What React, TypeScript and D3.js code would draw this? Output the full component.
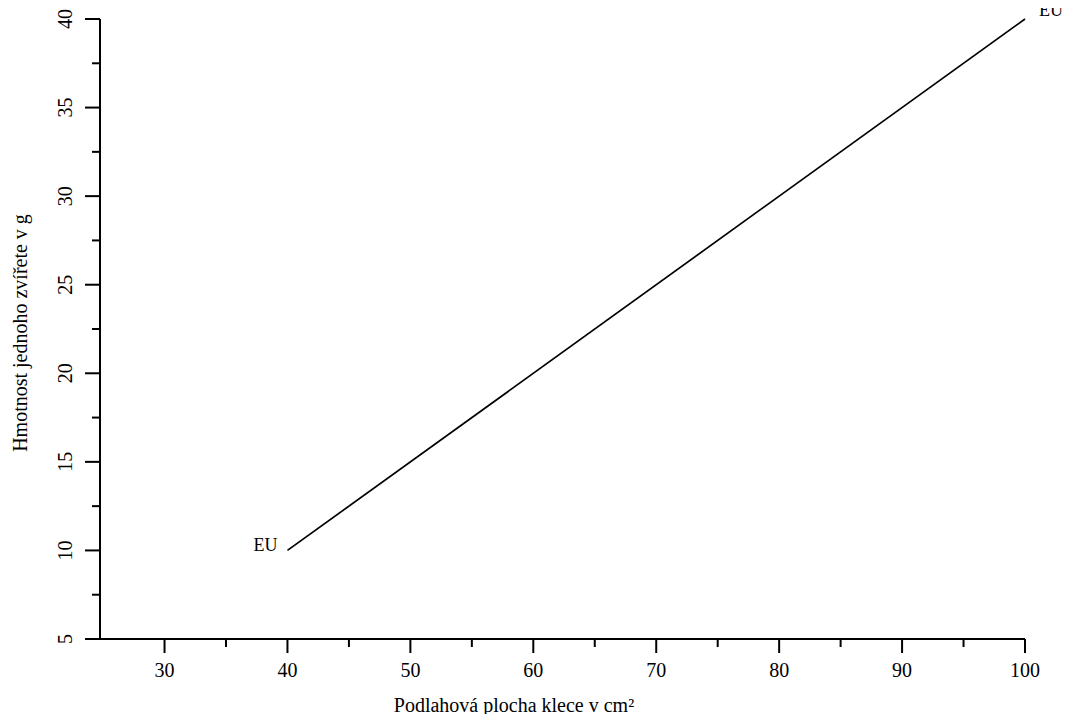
import React, { useEffect, useRef } from "react";
import * as d3 from "d3";

const lineX = [40, 100];
const lineY = [10, 40];
const lineLabels = ["EU", "EU"];
const xTicks = [30, 40, 50, 60, 70, 80, 90, 100];
const xMinor = [35, 45, 55, 65, 75, 85, 95];
const yTicks = [5, 10, 15, 20, 25, 30, 35, 40];
const yMinor = [7.5, 12.5, 17.5, 22.5, 27.5, 32.5, 37.5];
const xTitle = "Podlahová plocha klece v cm²";
const yTitle = "Hmotnost jednoho zvířete v g";

const W = 1072;
const H = 722;
const FONT = "'Liberation Serif', serif";

const Chart = () => {
  const ref = useRef<SVGSVGElement>(null);

  useEffect(() => {
    const svg = d3.select(ref.current);
    svg.selectAll("*").remove();

    const x = d3.scaleLinear().domain([24.75, 100]).range([100, 1025]);
    const y = d3.scaleLinear().domain([5, 40]).range([639, 19]);
    const sw = 2;

    // axis lines
    svg.append("line")
      .attr("x1", 86).attr("x2", x(100))
      .attr("y1", y(5)).attr("y2", y(5))
      .attr("stroke", "#000").attr("stroke-width", sw);
    svg.append("line")
      .attr("x1", x.range()[0]).attr("x2", x.range()[0])
      .attr("y1", y(40)).attr("y2", y(5))
      .attr("stroke", "#000").attr("stroke-width", sw);

    // x ticks
    svg.selectAll(".xt").data(xTicks).enter().append("line")
      .attr("x1", (d) => x(d)).attr("x2", (d) => x(d))
      .attr("y1", y(5)).attr("y2", y(5) + 14)
      .attr("stroke", "#000").attr("stroke-width", sw);
    svg.selectAll(".xm").data(xMinor).enter().append("line")
      .attr("x1", (d) => x(d)).attr("x2", (d) => x(d))
      .attr("y1", y(5)).attr("y2", y(5) + 8)
      .attr("stroke", "#000").attr("stroke-width", sw);
    svg.selectAll(".xl").data(xTicks).enter().append("text")
      .attr("x", (d) => x(d)).attr("y", 677)
      .attr("text-anchor", "middle")
      .attr("font-family", FONT).attr("font-size", 20)
      .text((d) => d);

    // y ticks
    const x0 = x.range()[0];
    svg.selectAll(".yt").data(yTicks).enter().append("line")
      .attr("x1", x0 - 15).attr("x2", x0)
      .attr("y1", (d) => y(d)).attr("y2", (d) => y(d))
      .attr("stroke", "#000").attr("stroke-width", sw);
    svg.selectAll(".ym").data(yMinor).enter().append("line")
      .attr("x1", x0 - 8).attr("x2", x0)
      .attr("y1", (d) => y(d)).attr("y2", (d) => y(d))
      .attr("stroke", "#000").attr("stroke-width", sw);
    svg.selectAll(".yl").data(yTicks).enter().append("text")
      .attr("transform", (d) => `translate(72,${y(d)}) rotate(-90)`)
      .attr("text-anchor", "middle")
      .attr("font-family", FONT).attr("font-size", 20)
      .text((d) => d);

    // titles
    svg.append("text")
      .attr("x", 514).attr("y", 712)
      .attr("text-anchor", "middle")
      .attr("font-family", FONT).attr("font-size", 20)
      .text(xTitle);
    svg.append("text")
      .attr("transform", `translate(27,333) rotate(-90)`)
      .attr("text-anchor", "middle")
      .attr("font-family", FONT).attr("font-size", 20)
      .text(yTitle);

    // data line
    const pts = lineX.map((d, i) => [d, lineY[i]] as [number, number]);
    const line = d3.line<[number, number]>().x((d) => x(d[0])).y((d) => y(d[1]));
    svg.append("path")
      .attr("d", line(pts))
      .attr("fill", "none")
      .attr("stroke", "#000").attr("stroke-width", 1.7);

    svg.append("text")
      .attr("x", x(lineX[0]) - 10).attr("y", y(lineY[0]) + 1)
      .attr("text-anchor", "end")
      .attr("font-family", FONT).attr("font-size", 18)
      .text(lineLabels[0]);
    svg.append("text")
      .attr("x", x(lineX[1]) + 14).attr("y", y(lineY[1]) - 3)
      .attr("text-anchor", "start")
      .attr("font-family", FONT).attr("font-size", 18)
      .text(lineLabels[1]);
  }, []);

  return <svg ref={ref} width={W} height={H} style={{ display: "block" }} />;
};

export default function App() {
  return (
    <div style={{ margin: -8 }}>
      <Chart />
    </div>
  );
}
